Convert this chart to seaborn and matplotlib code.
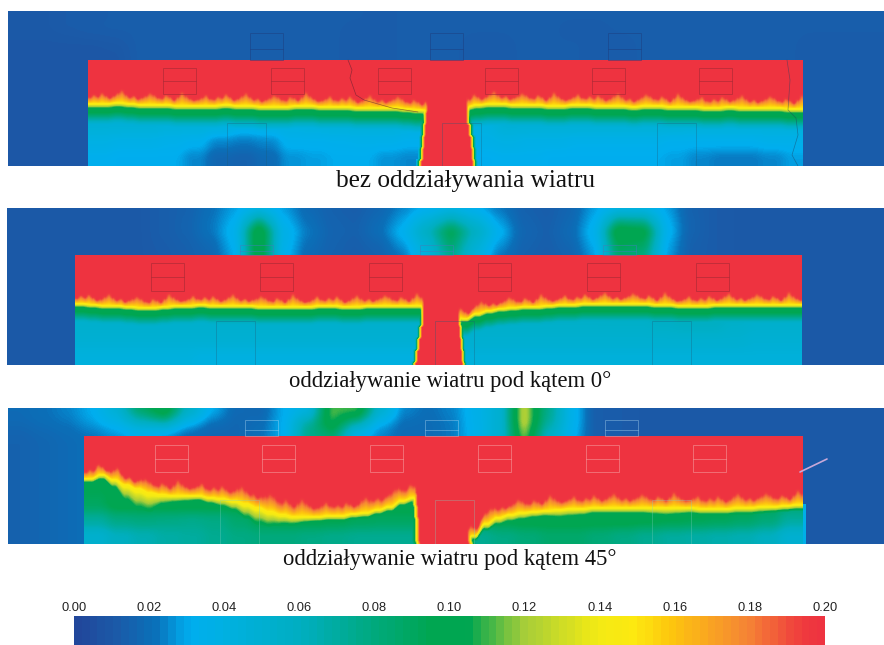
import numpy as np
import matplotlib
matplotlib.use('Agg')
import matplotlib.pyplot as plt
from matplotlib.colors import LinearSegmentedColormap
from matplotlib.patches import Rectangle
import seaborn as sns

# colour scale
scale_ticks = ['0.00', '0.02', '0.04', '0.06', '0.08', '0.10', '0.12', '0.14', '0.16', '0.18', '0.20']
scale_stops = [0.0, 0.01, 0.02, 0.03, 0.04, 0.06, 0.08, 0.095, 0.105, 0.12, 0.14, 0.15, 0.16, 0.18, 0.195, 0.2]
scale_colors = ['#21479b', '#1b5aa8', '#0a6fb8', '#00aeef', '#00b0e0', '#00aec0', '#00a97c', '#00a651',
                '#00a651', '#a5cd39', '#f3ea14', '#fde910', '#fdc50e', '#f58634', '#ef3b3e', '#ee3340']
captions = ['bez oddziaływania wiatru', 'oddziaływanie wiatru pod kątem 0°', 'oddziaływanie wiatru pod kątem 45°']
caption_sizes = [18.2, 16.3, 16.3]

# smoke layer edge (image row) read every 12 px along each building
iface_0 = [103, 103, 102, 103, 104, 104, 104, 105, 105, 105, 105, 104, 105, 105, 106, 106, 106, 105, 105, 106,
           106, 106, 107, 107, 107, 107, 108, 109, 110, 110, 108, 106, 104, 103, 103, 104, 104, 104, 105, 105,
           104, 104, 105, 105, 105, 106, 105, 105, 106, 106, 106, 107, 107, 106, 107, 107, 107, 107, 108, 108]
iface_1 = [303, 304, 305, 305, 306, 307, 307, 306, 305, 305, 304, 305, 305, 305, 305, 306, 306, 306, 306, 306,
           305, 305, 306, 306, 305, 305, 305, 305, 305, 306, 310, 316, 318, 313, 310, 308, 307, 306, 306, 305,
           304, 304, 303, 303, 303, 303, 303, 303, 304, 304, 305, 305, 305, 304, 304, 304, 304, 304, 304, 304, 304]
iface_2 = [478, 474, 479, 484, 488, 492, 494, 495, 495, 495, 497, 498, 500, 503, 507, 511, 514, 516, 516, 516,
           515, 515, 513, 512, 509, 506, 500, 497, 510, 540, 544, 544, 535, 523, 517, 514, 512, 511, 510, 509,
           508, 508, 507, 507, 507, 507, 507, 507, 507, 507, 507, 508, 508, 508, 507, 507, 506, 506, 505, 504]

# thickness of the orange part above and of the yellow to green part below the edge
band_up_0 = [5]
band_up_1 = [4]
band_up_2 = [5, 5, 5, 5, 6, 6, 7, 7, 7, 7, 7, 7, 8, 9, 10, 11, 11, 10, 9, 8,
             8, 7, 7, 8, 9, 9, 9, 9, 7, 5, 5, 5, 5, 6, 7, 7, 7, 7, 7, 7,
             7, 7, 7, 7, 7, 7, 7, 7, 7, 7, 7, 7, 7, 7, 7, 7, 7, 7, 6, 6]
band_low_0 = [5]
band_low_1 = [4]
band_low_2 = [4, 5, 8, 16, 20, 18, 10, 7, 6, 5, 6, 8, 10, 14, 16, 14, 10, 8, 6, 5,
              5, 5, 5, 5, 5, 5, 5, 5, 4, 3, 3, 3, 4, 6, 7, 7, 7, 6, 6, 8,
              8, 7, 6, 6, 6, 6, 6, 7, 8, 7, 6, 6, 6, 6, 6, 6, 6, 5, 5, 5]
# jagged top of the layer, px
flame = [2, 5, 3, 7, 4, 1, 3, 6, 9, 5, 2, 4, 1, 3, 5, 8, 6, 3, 2, 6, 4, 1, 5, 10, 6, 3, 1, 2, 4, 7, 3]

# corridor walls (image column), read every 12 px down from wall_top
wall_top = [88, 290, 470]
wall_left_0 = [427, 427, 426, 425, 424, 423, 421]
wall_right_0 = [466, 466, 466, 468, 470, 471, 472]
wall_left_1 = [423, 423, 423, 421, 419, 417, 415, 414]
wall_right_1 = [458, 458, 458, 459, 460, 461, 462, 462]
wall_left_2 = [416, 416, 417, 418, 419, 419, 420]
wall_right_2 = [464, 464, 464, 465, 466, 467, 468]

# outside values above the building, 24 px cells, last row continues down both sides
top_0 = [[.010, .010, .011, .011, .012, .012, .012, .012, .012, .012, .012, .012, .012, .012, .012, .011, .012, .012,
          .012, .012, .012, .012, .012, .012, .012, .012, .012, .012, .012, .012, .012, .012, .012, .012, .012, .012, .012],
         [.010, .010, .011, .012, .012, .012, .012, .012, .012, .012, .012, .012, .012, .012, .011, .011, .012, .012,
          .012, .012, .012, .012, .012, .011, .011, .012, .012, .012, .012, .012, .012, .012, .012, .012, .012, .012, .012],
         [.009, .009, .009, .009, .010, .012, .012, .012, .012, .012, .012, .012, .012, .012, .011, .011, .012, .012,
          .012, .011, .011, .012, .012, .012, .011, .011, .012, .012, .012, .012, .012, .012, .012, .011, .011, .011, .011],
         [.009, .009, .009, .009, .009, .012, .012, .012, .012, .012, .012, .012, .012, .012, .011, .011, .012, .012,
          .012, .011, .011, .012, .012, .012, .011, .011, .012, .012, .012, .012, .012, .012, .012, .011, .011, .011, .011]]
top_1 = [[.010, .010, .010, .010, .010, .010, .012, .014, .020, .028, .040, .028, .018, .014, .012, .016, .024, .032,
          .040, .032, .022, .014, .012, .016, .028, .040, .040, .028, .014, .011, .010, .010, .010, .010, .010, .010, .010],
         [.010, .010, .010, .010, .010, .010, .012, .015, .022, .034, .105, .036, .022, .015, .014, .020, .032, .060,
          .090, .060, .032, .016, .013, .018, .034, .105, .100, .034, .015, .011, .010, .010, .010, .010, .010, .010, .010],
         [.010, .010, .010, .010, .010, .010, .012, .014, .020, .034, .110, .038, .022, .015, .013, .018, .032, .056,
          .095, .056, .032, .016, .013, .018, .034, .105, .100, .032, .014, .011, .010, .010, .010, .010, .010, .010, .010],
         [.010, .010, .010, .010, .010, .010, .011, .013, .016, .030, .105, .034, .018, .014, .012, .014, .022, .044,
          .075, .044, .022, .014, .012, .015, .028, .085, .080, .028, .013, .011, .010, .010, .010, .010, .010, .010, .010]]
top_2 = [[.018, .020, .024, .030, .050, .090, .110, .060, .032, .018, .016, .030, .040, .110, .115, .055, .025, .020,
          .024, .035, .050, .125, .075, .035, .012, .011, .010, .010, .010, .010, .010, .010, .010, .010, .010, .010, .010],
         [.018, .020, .022, .030, .036, .060, .080, .040, .022, .016, .018, .030, .060, .115, .085, .035, .020, .018,
          .022, .035, .050, .125, .075, .035, .012, .011, .010, .010, .010, .010, .010, .010, .010, .010, .010, .010, .010],
         [.016, .018, .020, .024, .032, .040, .034, .022, .016, .016, .020, .032, .085, .095, .040, .025, .018, .018,
          .022, .034, .050, .125, .065, .034, .012, .011, .010, .010, .010, .010, .010, .010, .010, .010, .010, .010, .010],
         [.014, .016, .018, .020, .024, .030, .025, .018, .016, .016, .020, .030, .070, .080, .036, .024, .018, .018,
          .022, .034, .050, .110, .055, .032, .012, .011, .010, .010, .010, .010, .010, .010, .010, .010, .010, .010, .010]]

# values under the smoke layer, 24 px cells, 16 px rows up from the floor
low_0 = [[.052, .052, .052, .052, .052, .052, .052, .052, .052, .052, .052, .052, .052, .050, .050,
          .050, .050, .052, .052, .052, .052, .052, .052, .052, .052, .052, .052, .052, .052, .052],
         [.046, .046, .046, .044, .044, .042, .036, .038, .040, .042, .044, .044, .044, .042, .040,
          .040, .040, .046, .046, .046, .046, .046, .046, .046, .046, .044, .044, .044, .044, .044],
         [.038, .036, .036, .034, .032, .024, .022, .024, .032, .032, .033, .034, .034, .032, .032,
          .034, .036, .038, .036, .036, .034, .034, .034, .034, .032, .032, .032, .032, .034, .034],
         [.032, .030, .030, .030, .024, .016, .014, .018, .026, .028, .030, .030, .026, .024, .028,
          .030, .030, .032, .032, .030, .030, .030, .030, .030, .028, .024, .022, .022, .024, .028]]
low_1 = [[.056, .056, .056, .056, .056, .056, .056, .058, .058, .056, .056, .056, .056, .058, .058,
          .058, .058, .058, .058, .058, .058, .058, .060, .060, .064, .066, .064, .060, .058, .058],
         [.052, .052, .052, .052, .052, .052, .052, .052, .052, .052, .052, .052, .052, .052, .052,
          .052, .054, .054, .054, .054, .054, .054, .054, .054, .056, .058, .058, .054, .052, .052],
         [.048, .048, .048, .048, .048, .048, .048, .048, .048, .048, .048, .048, .048, .048, .048,
          .048, .050, .050, .050, .050, .050, .050, .050, .050, .050, .050, .050, .050, .048, .048],
         [.042, .042, .042, .042, .042, .040, .040, .040, .040, .040, .040, .040, .040, .040, .040,
          .040, .044, .044, .044, .044, .044, .044, .044, .044, .044, .044, .044, .044, .044, .044]]
low_2 = [[.095, .100, .100, .100, .100, .100, .100, .100, .100, .100, .100, .100, .100, .100, .100,
          .100, .100, .100, .100, .100, .100, .100, .100, .100, .100, .100, .100, .100, .100, .090],
         [.090, .100, .100, .100, .100, .100, .100, .100, .100, .100, .100, .100, .100, .100, .100,
          .100, .100, .100, .100, .100, .100, .100, .100, .100, .100, .100, .100, .100, .095, .085],
         [.070, .078, .080, .078, .076, .078, .086, .096, .098, .098, .096, .092, .090, .090, .090,
          .090, .092, .098, .100, .100, .100, .100, .100, .098, .096, .094, .092, .088, .082, .070],
         [.052, .060, .064, .068, .070, .074, .078, .080, .080, .078, .076, .074, .074, .074, .074,
          .074, .074, .078, .082, .086, .086, .082, .078, .074, .070, .068, .066, .064, .060, .050]]

# panel and building outlines in image pixels
panels = [(8, 11, 876, 155), (7, 208, 877, 157), (8, 408, 876, 136)]
buildings = [(88, 803, 60), (75, 802, 255), (84, 803, 436)]
windows = [([163, 271, 378, 485, 592, 699], 68, 94),
           ([151, 260, 369, 478, 587, 696], 263, 291),
           ([155, 262, 370, 478, 586, 693], 445, 472)]
doors = [([227, 442, 657], 123), ([216, 435, 652], 321), ([220, 435, 652], 500)]
stacks = [([250, 430, 608], 33, 60), ([240, 420, 603], 245, 255), ([245, 425, 605], 420, 436)]
win_colors = ['#a52a35', '#a52a35', '#f6b0b0']
door_colors = ['#1d5a78', '#1d5a78', '#7fd0c0']
stack_colors = ['#1d3f80', '#3f80b8', '#b0d8f0']
line_alpha = [0.7, 0.7, 0.55]
caption_pos = [(465, 181), (450, 381), (450, 560)]

cmap = LinearSegmentedColormap.from_list('smoke', list(zip(np.array(scale_stops) / 0.2, scale_colors)), N=256)


# box blur so the coarse cells do not show
def soften(a, k):
    a = np.pad(a, ((k // 2, k // 2), (k // 2, k // 2)), mode='edge')
    a = np.lib.stride_tricks.sliding_window_view(a, k, axis=0).mean(-1)
    a = np.lib.stride_tricks.sliding_window_view(a, k, axis=1).mean(-1)
    return a


def blocks(vals, row_h, w, h):
    a = np.repeat(np.repeat(np.array(vals), row_h, axis=0), 24, axis=1)
    a = np.pad(a, ((0, max(0, h - a.shape[0])), (0, max(0, w - a.shape[1]))), mode='edge')
    return a[:h, :w]


def build_field(panel, building, iface, up, low, wl, wr, w_top, top, floor, hold, fade, wall_w):
    x0, y0, w, h = panel
    bx0, bx1, by = building
    bw = bx1 - bx0
    rows = np.arange(y0, y0 + h)
    floor_h = 64

    # outside
    n_top = by - y0
    field = blocks(top, max(1, n_top // 4 + 1), w, h)
    field = soften(soften(field, 21), 9)

    # inside values
    under = np.pad(blocks(floor, 16, bw, floor_h), ((h - n_top - floor_h, 0), (0, 0)), mode='edge')
    under = soften(soften(under, 13), 9)

    edge = soften(np.resize(np.repeat(iface, 12), (1, bw)).astype(float), 7)[0]
    top_h = np.resize(np.repeat(up, 12), bw) + np.resize(np.repeat(flame, 4), bw)
    low_h = soften(np.resize(np.repeat(low, 12), (1, bw)).astype(float), 9)[0]

    yy = rows[n_top:][:, None]
    s = yy - edge[None, :]
    u = np.clip((s + top_h) / top_h, 0, 1)
    val = 0.2 - 0.05 * u
    g = np.clip(s / low_h, 0, 1)
    val = np.where(s > 0, 0.15 - 0.05 * g, val)
    f = np.clip((s - low_h - hold) / fade, 0, 1)
    val = np.where(s > low_h + hold, 0.10 - 0.10 * f, val)
    val = np.maximum(val, under)

    # corridor
    n_wall = rows[-1] - w_top + 1
    left = np.resize(np.pad(np.repeat(wl, 12), (0, 80), mode='edge'), n_wall).astype(float)
    right = np.resize(np.pad(np.repeat(wr, 12), (0, 80), mode='edge'), n_wall).astype(float)
    cols = np.arange(bx0, bx1)
    for i, yrow in enumerate(range(w_top, rows[-1] + 1)):
        r = yrow - by
        d = np.where(cols < left[i], left[i] - cols, np.where(cols > right[i], cols - right[i], 0))
        inner = np.clip(d / wall_w, 0, 3)
        wall = np.where(inner < 1, 0.2 - 0.05 * inner,
                        np.where(inner < 2, 0.15 - 0.05 * (inner - 1), 0.10 - 0.03 * (inner - 2)))
        wall = np.where(inner >= 3, 0, wall)
        val[r] = np.maximum(val[r], wall)

    field[n_top:, bx0 - x0:bx1 - x0] = soften(val, 3)
    return field


data = [(iface_0, band_up_0, band_low_0, wall_left_0, wall_right_0, top_0, low_0, 3, 24, 1.5),
        (iface_1, band_up_1, band_low_1, wall_left_1, wall_right_1, top_1, low_1, 3, 24, 1.2),
        (iface_2, band_up_2, band_low_2, wall_left_2, wall_right_2, top_2, low_2, 0, 1, 2.5)]

W, H = 884, 645
fig = plt.figure(figsize=(W / 100, H / 100), dpi=100)
sns.set_style('white')
plt.rcParams['font.family'] = ['Liberation Serif', 'DejaVu Serif']


def pixel_axes(x, y, w, h):
    return fig.add_axes([x / W, 1 - (y + h) / H, w / W, h / H])


for i, panel in enumerate(panels):
    iface, up, low, wl, wr, top, floor, hold, fade, wall_w = data[i]
    field = build_field(panel, buildings[i], iface, up, low, wl, wr, wall_top[i], top, floor, hold, fade, wall_w)
    x0, y0, w, h = panel
    if i == 2:
        # cyan streak along the right wall
        field[504 - y0:, buildings[i][1] - x0:buildings[i][1] - x0 + 3] = 0.035
    ax = pixel_axes(*panel)
    sns.heatmap(field, ax=ax, cmap=cmap, vmin=0, vmax=0.2, cbar=False, xticklabels=False, yticklabels=False,
                rasterized=True)
    ax.set_axis_off()
    a = line_alpha[i]

    win_x, win_t, win_b = windows[i]
    for wx in win_x:
        ax.add_patch(Rectangle((wx - x0, win_t - y0), 33, win_b - win_t, fill=False, ec=win_colors[i], lw=0.6, alpha=a))
        ax.plot([wx - x0, wx + 33 - x0], [(win_t + win_b) / 2 - y0] * 2, color=win_colors[i], lw=0.6, alpha=a)
    door_x, door_t = doors[i]
    for dx in door_x:
        ax.add_patch(Rectangle((dx - x0, door_t - y0), 39, y0 + h - door_t, fill=False, ec=door_colors[i],
                               lw=0.5, alpha=0.45))
    st_x, st_t, st_b = stacks[i]
    for sx in st_x:
        ax.add_patch(Rectangle((sx - x0, st_t - y0), 33, st_b - st_t, fill=False, ec=stack_colors[i], lw=0.5, alpha=a))
        ax.plot([sx - x0, sx + 33 - x0], [st_t + 0.6 * (st_b - st_t) - y0] * 2, color=stack_colors[i], lw=0.5, alpha=a)
    if i == 0:
        ax.plot(np.array([348, 352, 350, 356, 364, 392, 418]) - x0, np.array([60, 70, 78, 95, 100, 108, 112]) - y0,
                color='#5a2030', lw=0.5, alpha=0.6)
        ax.plot(np.array([787, 790, 788, 796, 798, 792, 798]) - x0, np.array([60, 80, 110, 118, 135, 155, 166]) - y0,
                color='#204060', lw=0.5, alpha=0.5)
    if i == 2:
        ax.plot(np.array([800, 827]) - x0, np.array([472, 459]) - y0, color='#c8a8d8', lw=1.2)
    cx, cy = caption_pos[i]
    fig.text(cx / W, 1 - cy / H, captions[i], ha='center', va='center', fontsize=caption_sizes[i], color='#111111')

# colour scale bar
cax = pixel_axes(74, 616, 751, 29)
levels = np.linspace(0, 0.2, 96)[None, :]
sns.heatmap(levels, ax=cax, cmap=cmap, vmin=0, vmax=0.2, cbar=False, yticklabels=False)
cax.xaxis.tick_top()
cax.set_xticks(np.arange(len(scale_ticks)) * 9.6)
cax.set_xticklabels(scale_ticks, rotation=0, fontsize=9.3, family=['Liberation Sans'], color='#222222')
cax.tick_params(axis='x', length=0, pad=1.5)
cax.set_ylabel('')

fig.savefig('out.png', dpi=100, facecolor='white')
